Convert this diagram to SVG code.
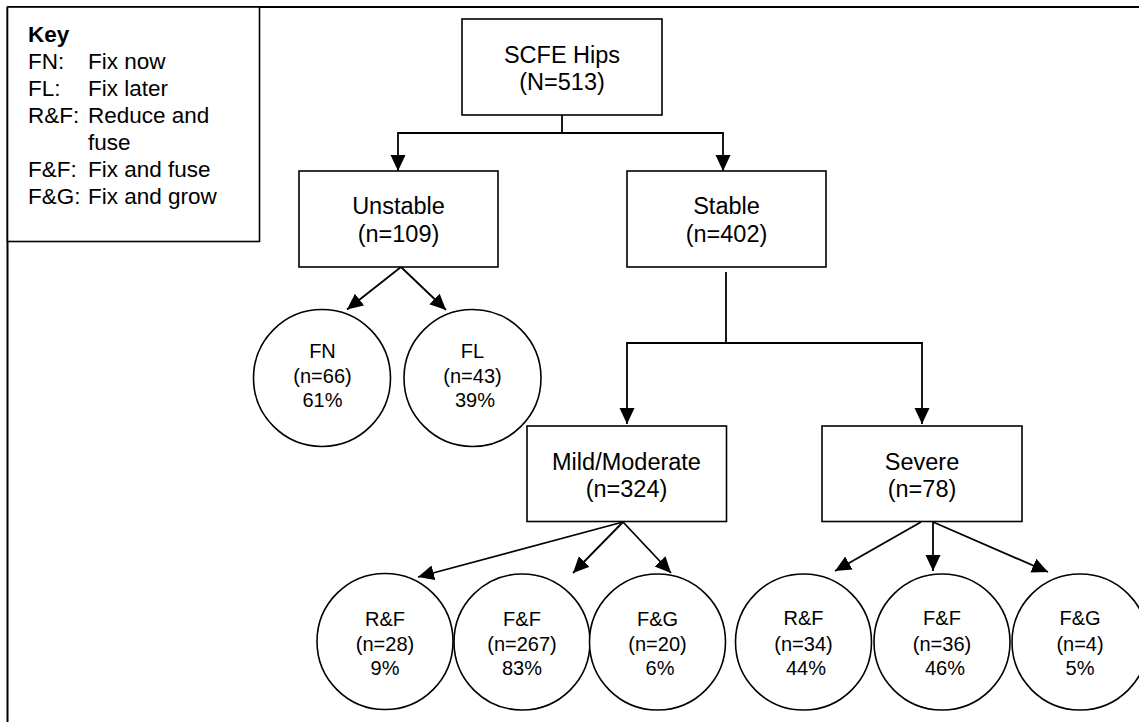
<svg xmlns="http://www.w3.org/2000/svg" width="1139" height="722" viewBox="0 0 1139 722">
<style>
text{font-family:"Liberation Sans",Arial,sans-serif;fill:#000}
.box{fill:#fff;stroke:#000;stroke-width:1.6}
.c{fill:#fff;stroke:#000;stroke-width:1.6}
.bt{font-size:23.5px;text-anchor:middle}
.ct{font-size:20px;text-anchor:middle}
.kt{font-size:22.5px}
.ln{fill:none;stroke:#000;stroke-width:1.8}
.fr{fill:none;stroke:#000;stroke-width:2}
</style>
<defs>
<marker id="ah" markerUnits="userSpaceOnUse" markerWidth="16" markerHeight="16" refX="16" refY="7.5" orient="auto">
<path d="M0,0 L16,7.5 L0,15 Z" fill="#000"/>
</marker>
</defs>
<rect width="1139" height="722" fill="#fff"/>
<g id="frame">
<line class="fr" x1="7.5" y1="7" x2="1139" y2="7"/>
<line class="fr" x1="7.5" y1="7" x2="7.5" y2="722"/>
</g>
<g id="key">
<rect class="box" x="7.5" y="7" width="252" height="234.5"/>
<text x="28" y="42" class="kt" font-weight="bold">Key</text>
<text x="28" y="69" class="kt">FN:</text><text x="88" y="69" class="kt">Fix now</text>
<text x="28" y="96" class="kt">FL:</text><text x="88" y="96" class="kt">Fix later</text>
<text x="28" y="123" class="kt">R&amp;F:</text><text x="88" y="123" class="kt">Reduce and</text>
<text x="88" y="150" class="kt">fuse</text>
<text x="28" y="177" class="kt">F&amp;F:</text><text x="88" y="177" class="kt">Fix and fuse</text>
<text x="28" y="204" class="kt">F&amp;G:</text><text x="88" y="204" class="kt">Fix and grow</text>
</g>
<g id="connectors">
<polyline class="ln" points="562,115 562,133 398,133 398,171" marker-end="url(#ah)"/>
<polyline class="ln" points="562,133 723,133 723,171" marker-end="url(#ah)"/>
<line class="ln" x1="401" y1="267" x2="347" y2="309.5" marker-end="url(#ah)"/>
<line class="ln" x1="401" y1="267" x2="446" y2="310" marker-end="url(#ah)"/>
<polyline class="ln" points="726,272 726,343 627,343 627,424" marker-end="url(#ah)"/>
<polyline class="ln" points="726,343 922,343 922,424" marker-end="url(#ah)"/>
<line class="ln" x1="623" y1="522" x2="418" y2="577" marker-end="url(#ah)"/>
<line class="ln" x1="623" y1="522" x2="573" y2="573" marker-end="url(#ah)"/>
<line class="ln" x1="623" y1="522" x2="671" y2="573" marker-end="url(#ah)"/>
<line class="ln" x1="921" y1="522" x2="835" y2="571" marker-end="url(#ah)"/>
<line class="ln" x1="933" y1="522" x2="933" y2="571" marker-end="url(#ah)"/>
<line class="ln" x1="933" y1="522" x2="1048" y2="572" marker-end="url(#ah)"/>
</g>
<g id="scfe">
<rect class="box" x="462" y="19" width="200" height="96"/>
<text x="562" y="62.5" class="bt">SCFE Hips</text>
<text x="562" y="90" class="bt">(N=513)</text>
</g>
<g id="unstable">
<rect class="box" x="299" y="171" width="199" height="96"/>
<text x="398.5" y="214" class="bt">Unstable</text>
<text x="398.5" y="242" class="bt">(n=109)</text>
</g>
<g id="stable">
<rect class="box" x="627" y="171" width="199" height="96"/>
<text x="726.5" y="214" class="bt">Stable</text>
<text x="726.5" y="242" class="bt">(n=402)</text>
</g>
<g id="fn">
<circle class="c" cx="322" cy="378" r="68.5"/>
<text x="322.5" y="358" class="ct">FN</text>
<text x="322.5" y="383" class="ct">(n=66)</text>
<text x="322.5" y="407" class="ct">61%</text>
</g>
<g id="fl">
<circle class="c" cx="472.5" cy="378" r="68.5"/>
<text x="472.5" y="358" class="ct">FL</text>
<text x="472.5" y="383" class="ct">(n=43)</text>
<text x="475" y="407" class="ct">39%</text>
</g>
<g id="mild">
<rect class="box" x="527" y="426" width="199.5" height="95.5"/>
<text x="626.5" y="469.5" class="bt">Mild/Moderate</text>
<text x="626.5" y="497" class="bt">(n=324)</text>
</g>
<g id="severe">
<rect class="box" x="822" y="426" width="200" height="95.5"/>
<text x="922" y="469.5" class="bt">Severe</text>
<text x="922" y="497" class="bt">(n=78)</text>
</g>
<g id="mild-rf">
<circle class="c" cx="385" cy="641.5" r="68"/>
<text x="385" y="626" class="ct">R&amp;F</text>
<text x="385" y="651" class="ct">(n=28)</text>
<text x="385" y="675" class="ct">9%</text>
</g>
<g id="mild-ff">
<circle class="c" cx="522" cy="642" r="68"/>
<text x="522" y="626" class="ct">F&amp;F</text>
<text x="522" y="651" class="ct">(n=267)</text>
<text x="522" y="675" class="ct">83%</text>
</g>
<g id="mild-fg">
<circle class="c" cx="657.5" cy="642" r="68"/>
<text x="657.5" y="626" class="ct">F&amp;G</text>
<text x="657.5" y="651" class="ct">(n=20)</text>
<text x="660" y="675" class="ct">6%</text>
</g>
<g id="severe-rf">
<circle class="c" cx="803.5" cy="642" r="68"/>
<text x="803.5" y="625" class="ct">R&amp;F</text>
<text x="803.5" y="651" class="ct">(n=34)</text>
<text x="806" y="675" class="ct">44%</text>
</g>
<g id="severe-ff">
<circle class="c" cx="942" cy="642" r="68"/>
<text x="942" y="625" class="ct">F&amp;F</text>
<text x="942" y="651" class="ct">(n=36)</text>
<text x="945" y="675" class="ct">46%</text>
</g>
<g id="severe-fg">
<circle class="c" cx="1080" cy="642" r="68"/>
<text x="1080" y="625" class="ct">F&amp;G</text>
<text x="1080" y="651" class="ct">(n=4)</text>
<text x="1080" y="675" class="ct">5%</text>
</g>
</svg>
